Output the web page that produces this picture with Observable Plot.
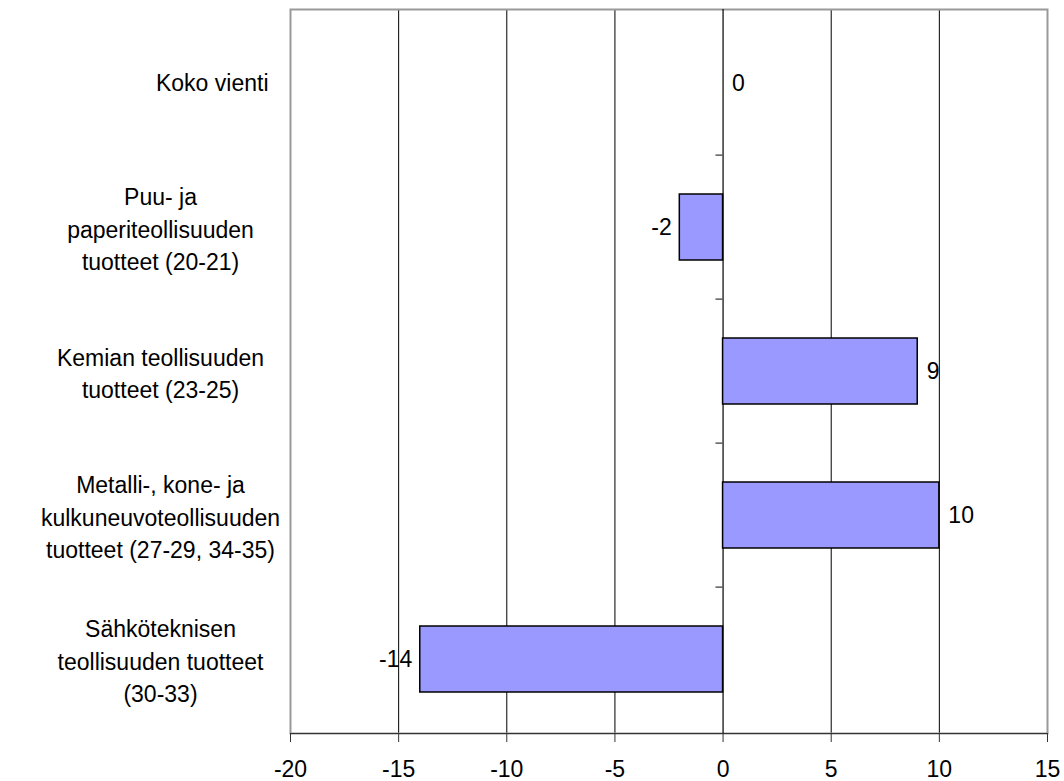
<!DOCTYPE html>
<html>
<head>
<meta charset="utf-8">
<script src="https://cdn.jsdelivr.net/npm/d3@7"></script>
<script src="https://cdn.jsdelivr.net/npm/@observablehq/plot@0.6"></script>
<style>
  html, body { margin: 0; padding: 0; background: #fff; }
  #chart svg { display: block; }
</style>
</head>
<body>
<div id="chart"></div>
<script>
const categories = [
  "Koko vienti",
  "Puu- ja paperiteollisuuden tuotteet (20-21)",
  "Kemian teollisuuden tuotteet (23-25)",
  "Metalli-, kone- ja kulkuneuvoteollisuuden tuotteet (27-29, 34-35)",
  "Sähköteknisen teollisuuden tuotteet (30-33)"
];
const categoryLabels = [
  "Koko vienti",
  "Puu- ja\npaperiteollisuuden\ntuotteet (20-21)",
  "Kemian teollisuuden\ntuotteet (23-25)",
  "Metalli-, kone- ja\nkulkuneuvoteollisuuden\ntuotteet (27-29, 34-35)",
  "Sähköteknisen\nteollisuuden tuotteet\n(30-33)"
];
const values = [0, -2, 9, 10, -14];
const xTicks = [-20, -15, -10, -5, 0, 5, 10, 15];
const gridTicks = [-15, -10, -5, 5, 10];

const data = categories.map((c, i) => ({cat: c, label: categoryLabels[i], value: values[i]}));

const W = 1064, H = 781;
const mT = 9, mB = 48, mL = 290, mR = 17;
const step = (H - mT - mB) / categories.length;
const FS = 23;

const chart = Plot.plot({
  width: W,
  height: H,
  marginTop: mT,
  marginBottom: mB,
  marginLeft: mL,
  marginRight: mR,
  style: {fontFamily: "'Liberation Sans', Arial, sans-serif", fontSize: FS + "px", color: "#000", background: "#fff"},
  x: {domain: [-20, 15], axis: null, label: null},
  y: {domain: categories, paddingInner: 0.54, paddingOuter: 0.27, axis: null, label: null},
  marks: [
    Plot.ruleX(gridTicks, {stroke: "#000", strokeWidth: 1}),
    Plot.frame({stroke: "#999", strokeWidth: 2}),
    Plot.frame({anchor: "bottom", stroke: "#333", strokeWidth: 1.2}),
    Plot.ruleX([0], {stroke: "#000", strokeWidth: 1.2}),
    Plot.ruleY(categories.slice(1), {x1: -0.33, x2: 0, dy: -step / 2, stroke: "#333", strokeWidth: 1.2}),
    Plot.axisX({ticks: xTicks, tickSize: 9, tickPadding: 18, label: null, tickFormat: d => String(d).replace("−", "-"), fontSize: FS, stroke: "#333", strokeOpacity: 1}),
    Plot.barX(data.filter(d => d.value !== 0), {x: "value", y: "cat", fill: "#9999FF", stroke: "#000", strokeWidth: 1.5}),
    Plot.text(data.filter(d => d.value >= 0), {x: "value", y: "cat", text: d => String(d.value), textAnchor: "start", dx: 9, fontSize: FS, fill: "#000"}),
    Plot.text(data.filter(d => d.value < 0), {x: "value", y: "cat", text: d => String(d.value), textAnchor: "end", dx: -8, fontSize: FS, fill: "#000"}),
    Plot.text(data.slice(1), {y: "cat", text: "label", frameAnchor: "left", dx: -130, textAnchor: "middle", lineHeight: 1.41, fontSize: FS, fill: "#000"}),
    Plot.text(data.slice(0, 1), {y: "cat", text: "label", frameAnchor: "left", dx: -22, textAnchor: "end", fontSize: FS, fill: "#000"})
  ]
});
document.getElementById("chart").appendChild(chart);
</script>
</body>
</html>
